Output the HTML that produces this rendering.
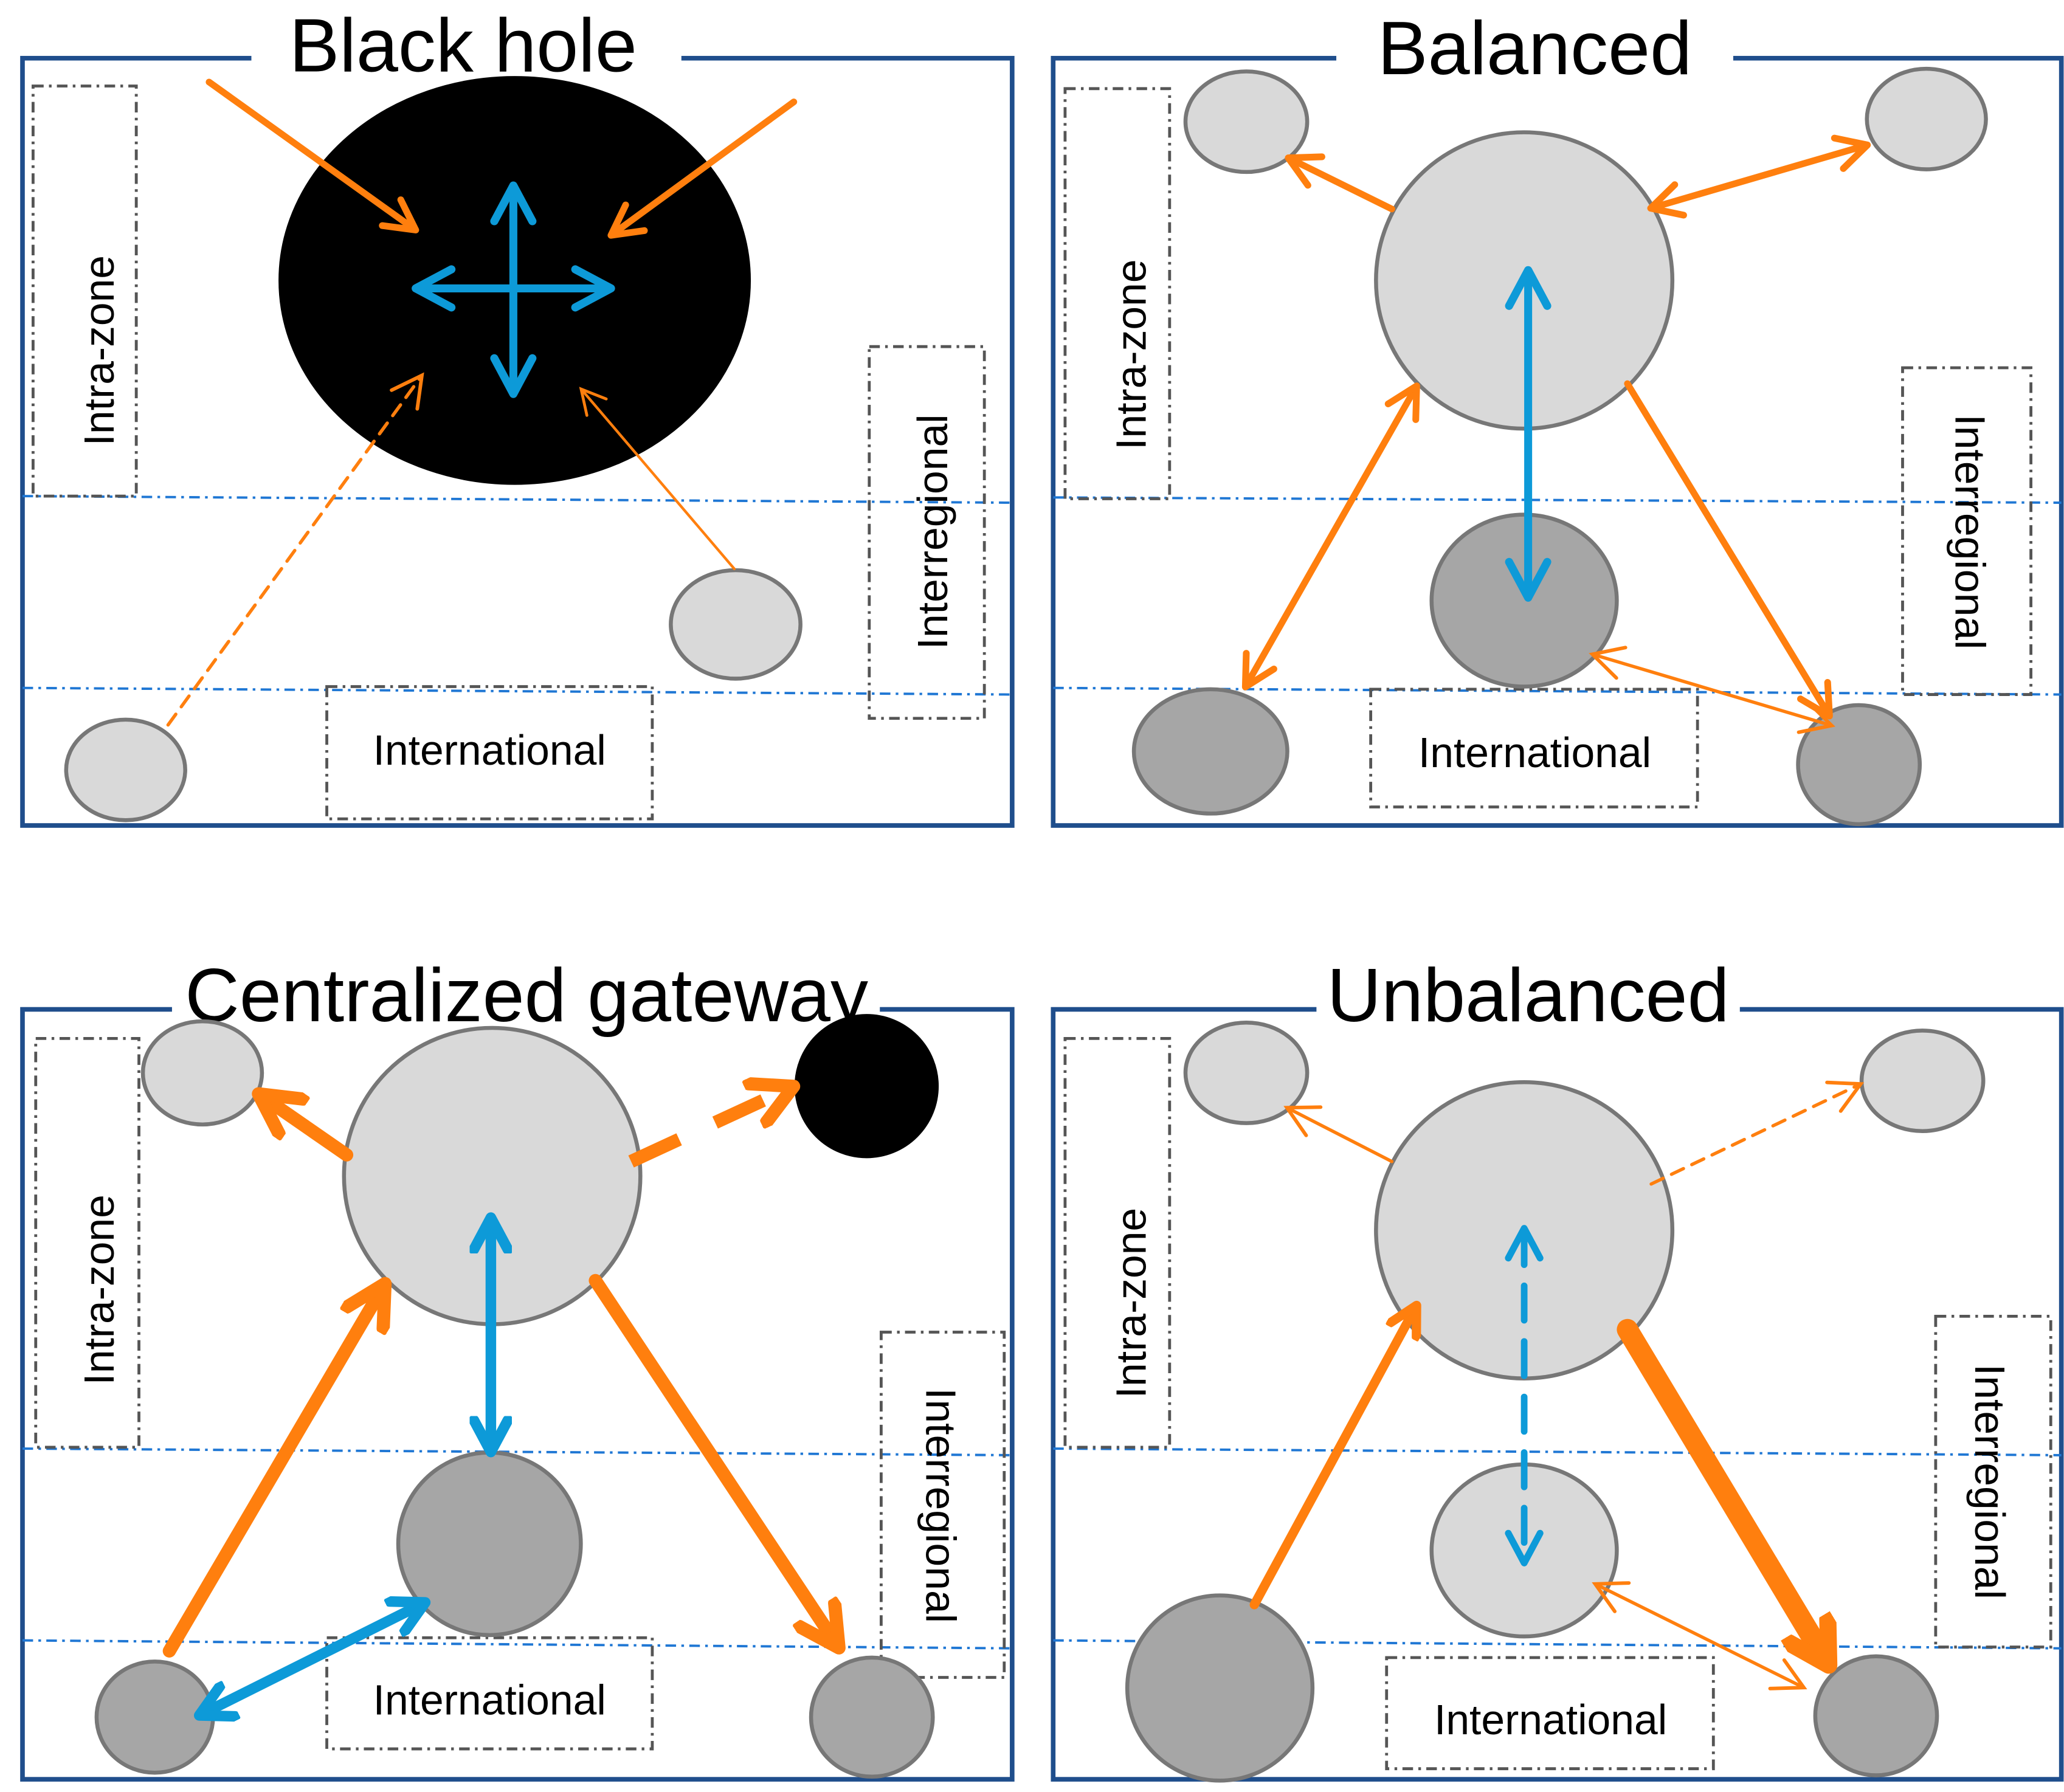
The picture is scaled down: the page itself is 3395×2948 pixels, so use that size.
<!DOCTYPE html>
<html><head><meta charset="utf-8"><style>
html,body{margin:0;padding:0;background:#fff}
svg{display:block}
text{font-family:"Liberation Sans",Arial,sans-serif;fill:#000}
</style></head><body>
<svg width="3395" height="2948" viewBox="0 0 1560 1354.6" xmlns="http://www.w3.org/2000/svg">
<defs>
<marker id="o" viewBox="0 0 10 10" refX="8" refY="5" markerWidth="6" markerHeight="6" orient="auto-start-reverse" markerUnits="strokeWidth"><path d="M1,1 L8.5,5 L1,9" fill="none" stroke="#ff7f0e" stroke-width="1.7" stroke-linecap="round" stroke-linejoin="round"/></marker>
<marker id="ot" viewBox="0 0 10 10" refX="8" refY="5" markerWidth="12" markerHeight="12" orient="auto-start-reverse" markerUnits="strokeWidth"><path d="M1,1 L8.5,5 L1,9" fill="none" stroke="#ff7f0e" stroke-width="0.9" stroke-linecap="round"/></marker>
<marker id="ok" viewBox="0 0 10 10" refX="8" refY="5" markerWidth="4" markerHeight="4" orient="auto-start-reverse" markerUnits="strokeWidth"><path d="M1,1 L8.5,5 L1,9" fill="none" stroke="#ff7f0e" stroke-width="2.5" stroke-linecap="round" stroke-linejoin="round"/></marker>
<marker id="ob" viewBox="0 0 10 10" refX="7" refY="5" markerWidth="2.7" markerHeight="2.7" orient="auto-start-reverse" markerUnits="strokeWidth"><path d="M1,1 L8,5 L1,9" fill="none" stroke="#ff7f0e" stroke-width="3" stroke-linecap="round" stroke-linejoin="round"/></marker>
<marker id="b" viewBox="0 0 10 10" refX="8" refY="5" markerWidth="6" markerHeight="6" orient="auto-start-reverse" markerUnits="strokeWidth"><path d="M1,1 L8.5,5 L1,9" fill="none" stroke="#0d9ad8" stroke-width="1.7" stroke-linecap="round" stroke-linejoin="round"/></marker>
<marker id="bk" viewBox="0 0 10 10" refX="8" refY="5" markerWidth="4" markerHeight="4" orient="auto-start-reverse" markerUnits="strokeWidth"><path d="M1,1 L8.5,5 L1,9" fill="none" stroke="#0d9ad8" stroke-width="2.5" stroke-linecap="round" stroke-linejoin="round"/></marker>
</defs>
<g fill="none" stroke="#1f4e8c" stroke-width="3.5">
<rect x="17" y="44" width="748" height="580"/>
<rect x="796" y="44" width="762" height="580"/>
<rect x="17" y="763" width="748" height="582"/>
<rect x="796" y="763" width="762" height="582"/>
</g>
<g fill="#fff" stroke="none">
<rect x="190" y="38" width="325" height="14"/>
<rect x="1010" y="38" width="300" height="14"/>
<rect x="130" y="757" width="535" height="14"/>
<rect x="995" y="757" width="320" height="14"/>
</g>
<g font-size="57" text-anchor="middle">
<text x="350" y="54">Black hole</text>
<text x="1160" y="56">Balanced</text>
<text x="398" y="772">Centralized gateway</text>
<text x="1155" y="772">Unbalanced</text>
</g>
<g stroke="#1f77d4" stroke-width="1.8" stroke-dasharray="8,4,2,4" fill="none">
<line x1="17" y1="375" x2="765" y2="380"/><line x1="17" y1="520" x2="765" y2="525"/>
<line x1="796" y1="376" x2="1558" y2="380"/><line x1="796" y1="520" x2="1558" y2="525"/>
<line x1="17" y1="1095" x2="765" y2="1100"/><line x1="17" y1="1240" x2="765" y2="1246"/>
<line x1="796" y1="1095" x2="1558" y2="1100"/><line x1="796" y1="1240" x2="1558" y2="1246"/>
</g>
<g fill="none" stroke="#555" stroke-width="2.2" stroke-dasharray="8,4,2,4">
<rect x="25" y="65" width="78" height="310"/><rect x="657" y="262" width="87" height="281"/><rect x="247" y="519" width="246" height="100"/>
<rect x="805" y="67" width="79" height="310"/><rect x="1438" y="278" width="97" height="247"/><rect x="1036" y="521" width="247" height="89"/>
<rect x="27" y="785" width="78" height="309"/><rect x="666" y="1007" width="93" height="261"/><rect x="247" y="1238" width="246" height="84"/>
<rect x="805" y="785" width="79" height="309"/><rect x="1463" y="995" width="87" height="250"/><rect x="1048" y="1253" width="247" height="84"/>
</g>
<g font-size="32" text-anchor="middle">
<text transform="translate(86,265) rotate(-90)">Intra-zone</text>
<text transform="translate(716,402) rotate(-90)">Interregional</text>
<text x="370" y="578">International</text>
<text transform="translate(866,268) rotate(-90)">Intra-zone</text>
<text transform="translate(1478,402) rotate(90)">Interregional</text>
<text x="1160" y="580">International</text>
<text transform="translate(86,975) rotate(-90)">Intra-zone</text>
<text transform="translate(700,1138) rotate(90)">Interregional</text>
<text x="370" y="1296">International</text>
<text transform="translate(866,985) rotate(-90)">Intra-zone</text>
<text transform="translate(1493,1120) rotate(90)">Interregional</text>
<text x="1172" y="1311">International</text>
</g>
<g stroke="#777" stroke-width="3">
<ellipse cx="389" cy="212" rx="177" ry="153" fill="#000" stroke="#000"/>
<ellipse cx="556" cy="472" rx="49" ry="41" fill="#d9d9d9"/>
<ellipse cx="95" cy="582" rx="45" ry="38" fill="#d9d9d9"/>
<ellipse cx="942" cy="92" rx="46" ry="38" fill="#d9d9d9"/>
<ellipse cx="1456" cy="90" rx="45" ry="38" fill="#d9d9d9"/>
<circle cx="1152" cy="212" r="112" fill="#d9d9d9"/>
<ellipse cx="1152" cy="454" rx="70" ry="65" fill="#a6a6a6"/>
<ellipse cx="915" cy="568" rx="58" ry="47" fill="#a6a6a6"/>
<ellipse cx="1405" cy="578" rx="46" ry="45" fill="#a6a6a6"/>
<ellipse cx="153" cy="811" rx="45" ry="39" fill="#d9d9d9"/>
<circle cx="372" cy="889" r="112" fill="#d9d9d9"/>
<circle cx="655" cy="821" r="53" fill="#000" stroke="#000"/>
<circle cx="370" cy="1167" r="69" fill="#a6a6a6"/>
<ellipse cx="117" cy="1298" rx="44" ry="42" fill="#a6a6a6"/>
<ellipse cx="659" cy="1298" rx="46" ry="45" fill="#a6a6a6"/>
<ellipse cx="942" cy="811" rx="46" ry="38" fill="#d9d9d9"/>
<ellipse cx="1453" cy="817" rx="46" ry="38" fill="#d9d9d9"/>
<circle cx="1152" cy="930" r="112" fill="#d9d9d9"/>
<ellipse cx="1152" cy="1172" rx="70" ry="65" fill="#d9d9d9"/>
<circle cx="922" cy="1276" r="70" fill="#a6a6a6"/>
<ellipse cx="1418" cy="1297" rx="46" ry="45" fill="#a6a6a6"/>
</g>
<g fill="none" stroke-linecap="round">
<line x1="158" y1="62" x2="313" y2="173" stroke="#ff7f0e" stroke-width="5" marker-end="url(#o)"/>
<line x1="600" y1="77" x2="463" y2="177" stroke="#ff7f0e" stroke-width="5" marker-end="url(#o)"/>
<line x1="388" y1="142" x2="388" y2="296" stroke="#0d9ad8" stroke-width="6" marker-start="url(#b)" marker-end="url(#b)"/>
<line x1="316" y1="218" x2="460" y2="218" stroke="#0d9ad8" stroke-width="6" marker-start="url(#b)" marker-end="url(#b)"/>
<line x1="127" y1="548" x2="318" y2="285" stroke="#ff7f0e" stroke-width="2.5" stroke-dasharray="10,7" marker-end="url(#ot)"/>
<line x1="555" y1="430" x2="440" y2="295" stroke="#ff7f0e" stroke-width="2" marker-end="url(#ot)"/>
<line x1="1052" y1="158" x2="975" y2="120" stroke="#ff7f0e" stroke-width="5" marker-end="url(#o)"/>
<line x1="1249" y1="157" x2="1410" y2="110" stroke="#ff7f0e" stroke-width="5" marker-start="url(#o)" marker-end="url(#o)"/>
<line x1="1155" y1="206" x2="1155" y2="450" stroke="#0d9ad8" stroke-width="6" marker-start="url(#b)" marker-end="url(#b)"/>
<line x1="1070" y1="293" x2="942" y2="518" stroke="#ff7f0e" stroke-width="5" marker-start="url(#o)" marker-end="url(#o)"/>
<line x1="1230" y1="290" x2="1382" y2="540" stroke="#ff7f0e" stroke-width="5" marker-end="url(#o)"/>
<line x1="1205" y1="495" x2="1383" y2="548" stroke="#ff7f0e" stroke-width="2.5" marker-start="url(#ot)" marker-end="url(#ot)"/>
<line x1="262" y1="873" x2="197" y2="828" stroke="#ff7f0e" stroke-width="10" marker-end="url(#ok)"/>
<line x1="477" y1="878" x2="598" y2="822" stroke="#ff7f0e" stroke-width="10" stroke-dasharray="40,30" stroke-linecap="butt" marker-end="url(#ok)"/>
<line x1="371" y1="922" x2="371" y2="1096" stroke="#0d9ad8" stroke-width="8" marker-start="url(#bk)" marker-end="url(#bk)"/>
<line x1="128" y1="1248" x2="290" y2="972" stroke="#ff7f0e" stroke-width="10" marker-end="url(#ok)"/>
<line x1="450" y1="968" x2="633" y2="1244" stroke="#ff7f0e" stroke-width="10" marker-end="url(#ok)"/>
<line x1="152" y1="1296" x2="320" y2="1212" stroke="#0d9ad8" stroke-width="8" marker-start="url(#bk)" marker-end="url(#bk)"/>
<line x1="1052" y1="878" x2="974" y2="838" stroke="#ff7f0e" stroke-width="2.5" marker-end="url(#ot)"/>
<line x1="1248" y1="895" x2="1405" y2="820" stroke="#ff7f0e" stroke-width="2.5" stroke-dasharray="10,7" marker-end="url(#ot)"/>
<line x1="1152" y1="930" x2="1152" y2="1180" stroke="#0d9ad8" stroke-width="5" stroke-dasharray="26,16" marker-start="url(#b)" marker-end="url(#b)"/>
<line x1="948" y1="1213" x2="1070" y2="988" stroke="#ff7f0e" stroke-width="7" marker-end="url(#ok)"/>
<line x1="1230" y1="1005" x2="1380" y2="1255" stroke="#ff7f0e" stroke-width="16" marker-end="url(#ob)"/>
<line x1="1207" y1="1198" x2="1362" y2="1275" stroke="#ff7f0e" stroke-width="2.5" marker-start="url(#ot)" marker-end="url(#ot)"/>
</g>
</svg>
</body></html>
